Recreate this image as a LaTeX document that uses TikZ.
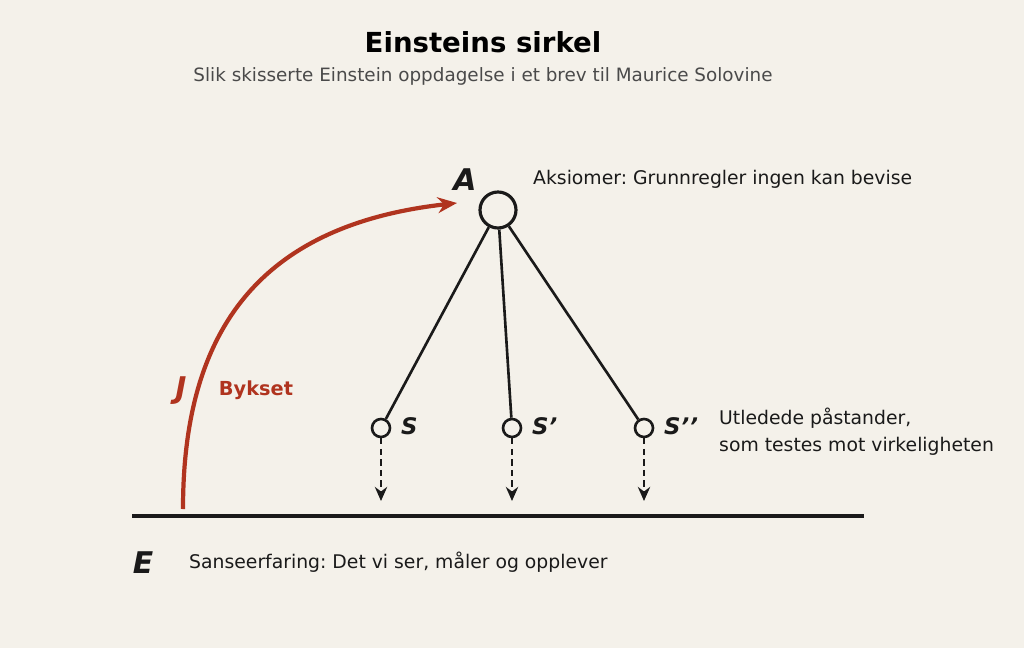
\documentclass[tikz,border=0pt]{standalone}
\usepackage{fontspec}
\setmainfont{DejaVu Sans}
\usetikzlibrary{arrows.meta}
\definecolor{bg}{HTML}{F4F1EA}
\definecolor{ink}{HTML}{1A1A1A}
\definecolor{jump}{HTML}{B0341F}
\definecolor{sub}{HTML}{4A4A4A}
\frenchspacing
\newcommand{\prm}{{\char"0027}}
\tikzset{
  big/.style={circle,draw=ink,line width=1.8pt,fill=bg,minimum size=0.72cm,inner sep=0pt},
  small/.style={circle,draw=ink,line width=1.5pt,fill=bg,minimum size=0.36cm,inner sep=0pt},
  letter/.style={font=\bfseries\itshape\fontsize{17}{17}\selectfont,text=ink},
  sletter/.style={font=\bfseries\itshape\fontsize{13}{13}\selectfont,text=ink},
  note/.style={font=\fontsize{10.7}{15.5}\selectfont,text=ink,anchor=west,align=left}
}
\begin{document}
\begin{tikzpicture}[x=0.02cm,y=-0.02cm]
  \fill[bg] (0,0) rectangle (1024,648);
  \useasboundingbox (0,0) rectangle (1024,648);
  \node (title) at (483,42) {\bfseries\fontsize{15.7}{15.7}\selectfont Einsteins sirkel};
  \node[text=sub] (subtitle) at (483,76) {\fontsize{10.45}{10.45}\selectfont Slik skisserte Einstein oppdagelse i et brev til Maurice Solovine};
  % axioms
  \node[big] (A) at (498,210) {};
  \node[letter] (Alab) at (465,180) {A};
  \node[note] (Atext) at (527,179) {Aksiomer: Grunnregler ingen kan bevise};
  % statements
  \node[small] (S1) at (381,428) {};
  \node[small] (S2) at (512,428) {};
  \node[small] (S3) at (644,428) {};
  \node[sletter,anchor=west] (S1lab) at (395,426) {S};
  \node[sletter,anchor=west] (S2lab) at (526,426) {S\prm};
  \node[sletter,anchor=west] (S3lab) at (658,426) {S\prm\prm};
  \node[note] (Stext) at (713,432) {Utledede påstander,\\som testes mot virkeligheten};
  \foreach \s in {S1,S2,S3}
    \draw[ink,line width=1.5pt] (A) -- (\s);
  % experience
  \coordinate (Eleft) at (132,516);
  \coordinate (Eright) at (864,516);
  \draw[ink,line width=1.8pt] (Eleft) -- (Eright);
  \foreach \s in {S1,S2,S3}
    \draw[ink,line width=1.5pt,dash pattern=on 3.5pt off 2.5pt,-{Stealth[length=8pt,width=7pt]}] (\s) -- ++(0,73);
  \node[letter] (Elab) at (143,563) {E};
  \node[note] (Etext) at (183,562) {Sanseerfaring: Det vi ser, måler og opplever};
  % jump
  \coordinate (Jstart) at (183,509);
  \draw[jump,line width=2.4pt,-{Stealth[length=11pt,width=9pt]}] (Jstart) .. controls (183,330) and (260,225) .. (457,203);
  \node[letter,text=jump] (Jlab) at (181,391) {J};
  \node[font=\bfseries\fontsize{11}{11}\selectfont,text=jump] (Jtext) at (256,390) {Bykset};
\end{tikzpicture}
\end{document}
